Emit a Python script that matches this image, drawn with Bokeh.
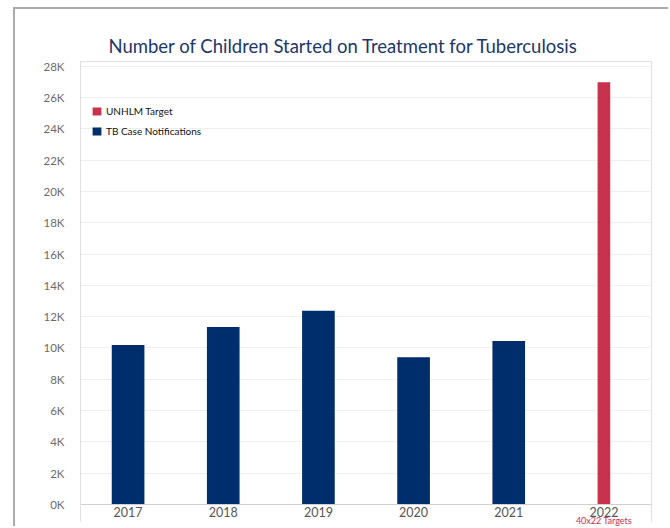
from bokeh.plotting import figure
from bokeh.models import (Range1d, FixedTicker, Legend, LegendItem,
                          LinearAxis, ColumnDataSource)
from bokeh.embed import file_html
from bokeh.resources import INLINE

# Children started on TB treatment, by year
years = ["2017", "2018", "2019", "2020", "2021", "2022"]
notified_years = ["2017", "2018", "2019", "2020", "2021"]
notified_values = [10190, 11340, 12380, 9400, 10450]
target_years = ["2022"]
target_values = [26980]
target_note = "40x22 Targets"

y_ticks = list(range(0, 28001, 2000))
y_tick_labels = {t: f"{t // 1000}K" for t in y_ticks}

NAVY = "#002d6b"
RED = "#c8324f"
FONT = "Lato"
RULE = "#e0e0e0"

# one unit-wide slot per year, bars centred in their slot
slot = {y: i + 0.5 for i, y in enumerate(years)}
centers = [slot[y] for y in years]

p = figure(
    width=655, height=519,
    x_range=Range1d(0, len(years)),
    y_range=Range1d(0, 28300),
    x_axis_location=None,
    output_backend="svg", toolbar_location=None,
    min_border_left=65, min_border_right=19, min_border_top=52, min_border_bottom=23,
    styles={"margin-left": "13px", "margin-top": "7px",
            "border-left": "2px solid #ababab", "border-top": "2px solid #ababab"},
)
p.outline_line_color = RULE
p.background_fill_color = "white"
p.border_fill_color = "white"

# title
p.title.text = "Number of Children Started on Treatment for Tuberculosis"
p.title.align = "left"
p.title.offset = 28
p.title.standoff = 10
p.title.text_font = FONT
p.title.text_font_size = "18.5px"
p.title.text_font_style = "normal"
p.title.text_color = "#1d3768"

src_n = ColumnDataSource(dict(x=[slot[y] for y in notified_years], top=notified_values))
src_t = ColumnDataSource(dict(x=[slot[y] for y in target_years], top=target_values))
r_n = p.vbar(x="x", top="top", width=0.343, source=src_n, fill_color=NAVY, line_color=None)
r_t = p.vbar(x="x", top="top", width=0.133, source=src_t, fill_color=RED, line_color=None)

# y axis
p.yaxis.ticker = FixedTicker(ticks=y_ticks)
p.yaxis.major_label_overrides = y_tick_labels
p.yaxis.axis_line_color = RULE
p.yaxis.major_tick_line_color = None
p.yaxis.minor_tick_line_color = None
p.yaxis.major_label_standoff = 10
p.yaxis.major_label_text_font = FONT
p.yaxis.major_label_text_font_size = "11.5px"
p.yaxis.major_label_text_color = "#6b6b6b"

# x axis: year labels; the slot edges get short rules hanging below the baseline
xaxis = LinearAxis(
    ticker=FixedTicker(ticks=centers, minor_ticks=[0, len(years)]),
    major_label_overrides={c: y for c, y in zip(centers, years)},
    axis_line_color="#cfcfcf",
    major_tick_line_color=None,
    minor_tick_in=0, minor_tick_out=17, minor_tick_line_color=RULE,
    major_label_standoff=-15,
    major_label_text_font=FONT, major_label_text_font_size="12.5px",
    major_label_text_color="#555555",
)
p.add_layout(xaxis, "below")

# note under the 2022 slot
note_axis = LinearAxis(
    ticker=FixedTicker(ticks=[slot["2022"]]),
    major_label_overrides={slot["2022"]: target_note},
    axis_line_color=None, major_tick_line_color=None, minor_tick_line_color=None,
    major_label_standoff=-11,
    major_label_text_font=FONT, major_label_text_font_size="9px",
    major_label_text_color=RED,
)
p.add_layout(note_axis, "below")

p.xgrid.grid_line_color = None
p.ygrid.grid_line_color = "#efefef"
p.ygrid.grid_line_width = 1

legend = Legend(
    items=[LegendItem(label="UNHLM Target", renderers=[r_t]),
           LegendItem(label="TB Case Notifications", renderers=[r_n])],
    location=(11, 367), orientation="vertical",
    glyph_width=11, glyph_height=10, label_height=10, label_width=10,
    spacing=8, padding=0, margin=0, label_standoff=4,
    label_text_font=FONT, label_text_font_size="10px", label_text_color="#111111",
    border_line_color=None, background_fill_alpha=0,
)
p.add_layout(legend)

open("out.html", "w").write(file_html(p, INLINE))
